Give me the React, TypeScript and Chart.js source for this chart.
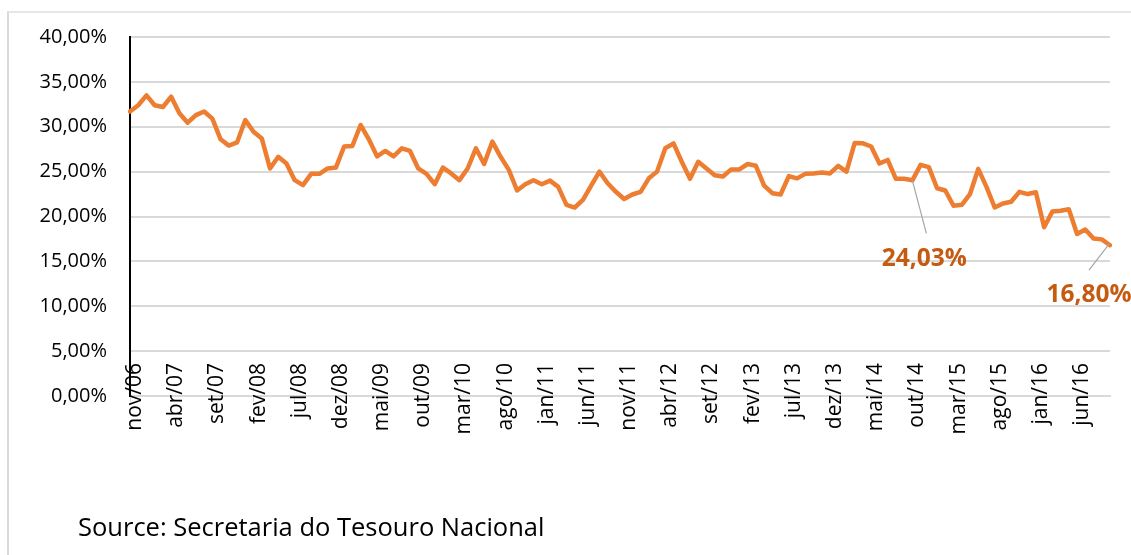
import React, { useEffect, useRef } from "react";
import { Chart, registerables } from "chart.js";

Chart.register(...registerables);

// Monthly categories, nov/06 .. out/16
const months2006 = ["nov/06", "dez/06"];
const months2007 = ["jan/07", "fev/07", "mar/07", "abr/07", "mai/07", "jun/07", "jul/07", "ago/07", "set/07", "out/07", "nov/07", "dez/07"];
const months2008 = ["jan/08", "fev/08", "mar/08", "abr/08", "mai/08", "jun/08", "jul/08", "ago/08", "set/08", "out/08", "nov/08", "dez/08"];
const months2009 = ["jan/09", "fev/09", "mar/09", "abr/09", "mai/09", "jun/09", "jul/09", "ago/09", "set/09", "out/09", "nov/09", "dez/09"];
const months2010 = ["jan/10", "fev/10", "mar/10", "abr/10", "mai/10", "jun/10", "jul/10", "ago/10", "set/10", "out/10", "nov/10", "dez/10"];
const months2011 = ["jan/11", "fev/11", "mar/11", "abr/11", "mai/11", "jun/11", "jul/11", "ago/11", "set/11", "out/11", "nov/11", "dez/11"];
const months2012 = ["jan/12", "fev/12", "mar/12", "abr/12", "mai/12", "jun/12", "jul/12", "ago/12", "set/12", "out/12", "nov/12", "dez/12"];
const months2013 = ["jan/13", "fev/13", "mar/13", "abr/13", "mai/13", "jun/13", "jul/13", "ago/13", "set/13", "out/13", "nov/13", "dez/13"];
const months2014 = ["jan/14", "fev/14", "mar/14", "abr/14", "mai/14", "jun/14", "jul/14", "ago/14", "set/14", "out/14", "nov/14", "dez/14"];
const months2015 = ["jan/15", "fev/15", "mar/15", "abr/15", "mai/15", "jun/15", "jul/15", "ago/15", "set/15", "out/15", "nov/15", "dez/15"];
const months2016 = ["jan/16", "fev/16", "mar/16", "abr/16", "mai/16", "jun/16", "jul/16", "ago/16", "set/16", "out/16"];

const categories = [
  ...months2006, ...months2007, ...months2008, ...months2009, ...months2010, ...months2011,
  ...months2012, ...months2013, ...months2014, ...months2015, ...months2016,
];

// Share (%)
const share2006_2008 = [
  31.7, 32.4, 33.5, 32.4, 32.2, 33.35, 31.5, 30.45, 31.3, 31.7, 30.9, 28.6,
  27.9, 28.25, 30.75, 29.45, 28.7, 25.35, 26.65, 25.9, 24.05, 23.5, 24.75, 24.75,
  25.35, 25.45,
];
const share2009_2010 = [
  27.8, 27.85, 30.2, 28.6, 26.7, 27.3, 26.7, 27.6, 27.3, 25.35, 24.75, 23.6,
  25.45, 24.8, 24.05, 25.35, 27.6, 25.85, 28.35, 26.65, 25.2, 22.9, 23.6, 24.05,
];
const share2011_2012 = [
  23.6, 24.0, 23.3, 21.3, 21.0, 21.85, 23.45, 25.0, 23.7, 22.75, 21.95, 22.45,
  22.75, 24.25, 25.0, 27.6, 28.15, 26.1, 24.2, 26.1, 25.35, 24.6, 24.45, 25.25,
];
const share2013_2014 = [
  25.25, 25.85, 25.65, 23.45, 22.6, 22.45, 24.5, 24.25, 24.75, 24.8, 24.9, 24.8,
  25.65, 25.0, 28.2, 28.15, 27.8, 25.9, 26.3, 24.2, 24.2, 24.03, 25.75, 25.5,
];
const share2015_2016 = [
  23.15, 22.9, 21.2, 21.3, 22.5, 25.3, 23.3, 21.0, 21.45, 21.65, 22.75, 22.5,
  22.7, 18.8, 20.55, 20.65, 20.8, 18.05, 18.55, 17.55, 17.45, 16.8,
];
const shareValues = [...share2006_2008, ...share2009_2010, ...share2011_2012, ...share2013_2014, ...share2015_2016];

const yTicks = [0, 5, 10, 15, 20, 25, 30, 35, 40];
const labelEvery = 5;

const calloutIndexes = [95, 119];
const calloutTexts = ["24,03%", "16,80%"];

const fmtPct = (v: number) => v.toFixed(2).replace(".", ",") + "%";

export default function App() {
  const canvasRef = useRef<HTMLCanvasElement | null>(null);

  useEffect(() => {
    document.body.style.margin = "0";
    const canvas = canvasRef.current;
    if (!canvas) return;

    // [line start dx, dy, line end dx, dy, label dx, dy]
    const calloutGeom = [
      [0, 0, 14, 53, 12, 79],
      [-1, -1, -21, 25, -21, 50],
    ];

    const calloutPlugin = {
      id: "callouts",
      afterDatasetsDraw(chart: any) {
        const ctx = chart.ctx;
        const xs = chart.scales.x;
        const ys = chart.scales.y;
        calloutIndexes.forEach((idx, k) => {
          const px = xs.getPixelForValue(idx);
          const py = ys.getPixelForValue(shareValues[idx]);
          const g = calloutGeom[k];
          ctx.save();
          ctx.strokeStyle = "#A6A6A6";
          ctx.lineWidth = 1.2;
          ctx.beginPath();
          ctx.moveTo(px + g[0], py + g[1]);
          ctx.lineTo(px + g[2], py + g[3]);
          ctx.stroke();
          ctx.fillStyle = "#C55A11";
          ctx.font = "bold 24.5px 'Open Sans'";
          ctx.textAlign = "center";
          ctx.textBaseline = "middle";
          ctx.fillText(calloutTexts[k], px + g[4], py + g[5]);
          ctx.restore();
        });
      },
    };

    // x category labels: rotated, reading bottom-to-top, overlapping the axis line as in the source
    const xLabelPlugin = {
      id: "xLabels",
      afterDraw(chart: any) {
        const ctx = chart.ctx;
        const xs = chart.scales.x;
        const topY = chart.chartArea.bottom - 33;
        ctx.save();
        ctx.fillStyle = "#000000";
        ctx.font = "21px 'Open Sans'";
        ctx.textAlign = "right";
        ctx.textBaseline = "middle";
        categories.forEach((lab, i) => {
          if (i % labelEvery !== 0) return;
          const x = xs.getPixelForValue(i) + 5;
          ctx.save();
          ctx.translate(x, topY);
          ctx.rotate(-Math.PI / 2);
          ctx.fillText(lab, 0, 0);
          ctx.restore();
        });
        ctx.restore();
      },
    };

    const chart = new Chart(canvas, {
      type: "line",
      data: {
        labels: categories,
        datasets: [
          {
            data: shareValues,
            borderColor: "#ED7D31",
            backgroundColor: "#ED7D31",
            borderWidth: 4.5,
            pointRadius: 0,
            tension: 0,
            borderJoinStyle: "round",
            borderCapStyle: "round",
          },
        ],
      },
      options: {
        responsive: false,
        animation: false,
        devicePixelRatio: 1,
        layout: { padding: { left: 0, top: 37, right: 21, bottom: 0 } },
        plugins: {
          legend: { display: false },
          tooltip: { enabled: false },
        },
        scales: {
          x: {
            type: "category",
            offset: false,
            grid: {
              display: true,
              drawOnChartArea: false,
              drawTicks: true,
              tickLength: 6,
              tickColor: (c: any) => (c.index % labelEvery === 0 ? "#D9D9D9" : "rgba(0,0,0,0)"),
            },
            border: { display: true, color: "#D9D9D9", width: 2 },
            ticks: {
              display: false,
              autoSkip: false,
              maxRotation: 0,
            },
            afterFit: (s: any) => {
              s.height = 159;
              s.paddingLeft = 0;
              s.paddingRight = 0;
            },
          },
          y: {
            min: 0,
            max: 40,
            afterBuildTicks: (s: any) => {
              s.ticks = yTicks.map((v) => ({ value: v }));
            },
            grid: { color: "#D9D9D9", lineWidth: 2, drawTicks: false },
            border: { display: true, color: "#000000", width: 2 },
            ticks: {
              padding: 23,
              color: "#000000",
              font: { family: "'Open Sans'", size: 20 },
              callback: (v: any) => fmtPct(Number(v)),
            },
            afterFit: (s: any) => {
              s.width = 130;
            },
          },
        },
      },
      plugins: [calloutPlugin, xLabelPlugin],
    });

    return () => chart.destroy();
  }, []);

  return (
    <div style={{ position: "fixed", left: 0, top: 0, width: 1131, height: 555, background: "#ffffff", overflow: "hidden" }}>
      <div
        style={{
          position: "absolute",
          left: 7,
          top: 11,
          width: 1131,
          height: 555,
          borderLeft: "2px solid #D9D9D9",
          borderTop: "2px solid #E6E6E6",
          boxSizing: "border-box",
        }}
      />
      <canvas ref={canvasRef} width={1131} height={555} style={{ position: "absolute", left: 0, top: 0, width: 1131, height: 555 }} />
      <div
        style={{
          position: "absolute",
          left: 78,
          top: 508,
          fontFamily: "'Open Sans'",
          fontSize: 25.5,
          lineHeight: "36px",
          color: "#000000",
          whiteSpace: "nowrap",
        }}
      >
        Source: Secretaria do Tesouro Nacional
      </div>
    </div>
  );
}
